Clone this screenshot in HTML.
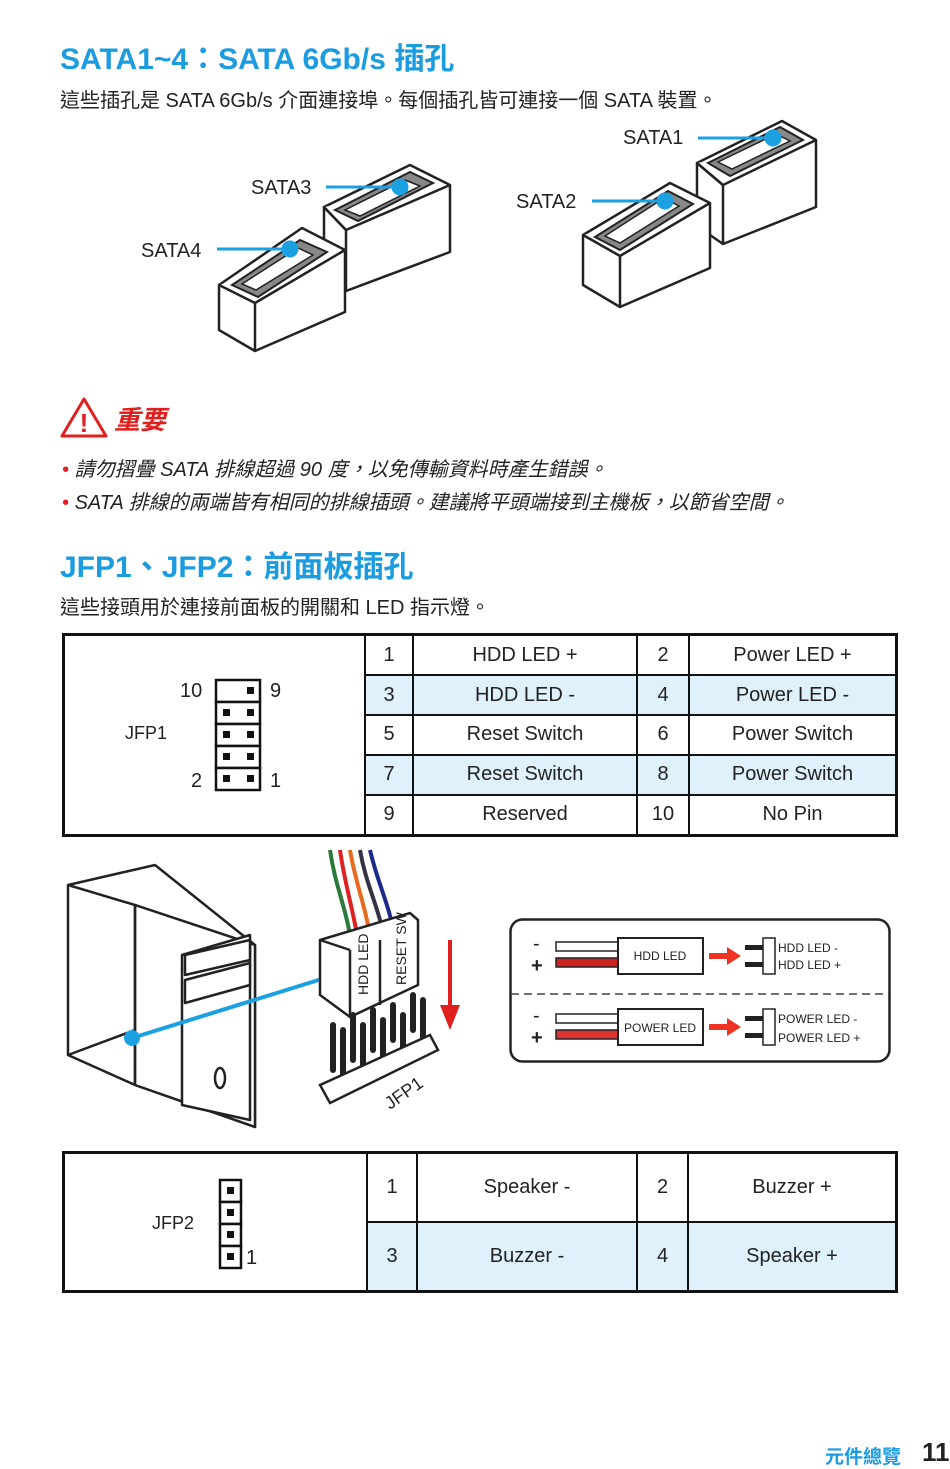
<!DOCTYPE html>
<html><head><meta charset="utf-8"><style>
body{margin:0;width:950px;height:1467px;background:#fff;position:relative;font-family:"Liberation Sans","Noto Sans CJK TC",sans-serif;color:#222;overflow:hidden}
.a{position:absolute;white-space:nowrap}
.h{color:#1b9be0;font-weight:bold;font-size:30px}
.t{font-size:20px}
table{position:absolute;border-collapse:collapse;font-size:20px}
td{border:2px solid #111;text-align:center;padding:0}
.b td.c{background:#dff2fb}
</style></head><body>
<div class="a h" style="left:60px;top:34px">SATA1~4：SATA 6Gb/s 插孔</div>
<div class="a t" style="left:60px;top:84px">這些插孔是 SATA 6Gb/s 介面連接埠。每個插孔皆可連接一個 SATA 裝置。</div>

<svg class="a" style="left:0;top:0" width="950" height="380">
<g fill="#fff" stroke="#222" stroke-width="2.5" stroke-linejoin="round">
 <polygon points="324,207 410,165 450,185 450,252 346,291 346,230"/>
 <polyline points="324,207 346,230 450,185"/><line x1="324" y1="207" x2="324" y2="270"/><polyline points="324,270 346,291"/>
 <polygon points="219,285 302,228 345,250 345,312 255,351 219,330"/>
 <polyline points="219,285 255,303 345,250"/><line x1="255" y1="303" x2="255" y2="351"/>
 <polygon points="697,163 782,121 816,140 816,207 723,244 723,185"/>
 <polyline points="697,163 723,185 816,140"/><line x1="697" y1="163" x2="697" y2="226"/><line x1="697" y1="226" x2="723" y2="244"/>
 <polygon points="583,235 670,183 710,203 710,268 620,307 583,285"/>
 <polyline points="583,235 620,256 710,203"/><line x1="620" y1="256" x2="620" y2="307"/>
</g>
<g fill="#888" stroke="#222" stroke-width="2">
 <polygon points="335,210 410,172 433,183 358,221"/>
 <polygon points="232,285 300,240 327,252 258,297"/>
 <polygon points="708,163 780,127 803,140 730,176"/>
 <polygon points="595,237 668,191 693,204 620,250"/>
</g>
<g fill="#fff" stroke="#222" stroke-width="1.5">
 <polygon points="345,210 405,180 420,186 360,216"/>
 <polygon points="242,284 298,248 313,255 256,290"/>
 <polygon points="718,162 776,134 790,141 732,169"/>
 <polygon points="605,236 664,198 679,206 620,243"/>
</g>
<g stroke="#1ba0e2" stroke-width="3" fill="#1ba0e2">
 <line x1="326" y1="187" x2="400" y2="187"/><circle cx="400" cy="187" r="7"/>
 <line x1="217" y1="249" x2="290" y2="249"/><circle cx="290" cy="249" r="7"/>
 <line x1="698" y1="138" x2="773" y2="138"/><circle cx="773" cy="138" r="7"/>
 <line x1="592" y1="201" x2="665" y2="201"/><circle cx="665" cy="201" r="7"/>
</g>
</svg>
<div class="a t" style="left:251px;top:177px">SATA3</div>
<div class="a t" style="left:141px;top:240px">SATA4</div>
<div class="a t" style="left:623px;top:127px">SATA1</div>
<div class="a t" style="left:516px;top:191px">SATA2</div>

<svg class="a" style="left:60px;top:396px" width="50" height="44"><polygon points="24,3 46,40 2,40" fill="#fff" stroke="#e0201f" stroke-width="3" stroke-linejoin="round"/><text x="24" y="36" text-anchor="middle" font-size="26" font-weight="bold" fill="#e0201f" font-family="Liberation Sans">!</text></svg>
<div class="a" style="left:114px;top:400px;color:#e0201f;font-size:26px;font-weight:bold;font-style:italic">重要</div>
<div class="a t" style="left:62px;top:453px;font-style:italic"><span style="color:#e0201f">•</span> 請勿摺疊 SATA 排線超過 90 度，以免傳輸資料時產生錯誤。</div>
<div class="a t" style="left:62px;top:486px;font-style:italic"><span style="color:#e0201f">•</span> SATA 排線的兩端皆有相同的排線插頭。建議將平頭端接到主機板，以節省空間。</div>

<div class="a h" style="left:60px;top:542px">JFP1、JFP2：前面板插孔</div>
<div class="a t" style="left:60px;top:591px">這些接頭用於連接前面板的開關和 LED 指示燈。</div>

<table style="left:62px;top:633px;width:836px;height:204px;border:3px solid #111">
<tr><td rowspan="5" style="width:299px;position:relative"></td><td style="width:46px">1</td><td style="width:222px">HDD LED +</td><td style="width:50px">2</td><td>Power LED +</td></tr>
<tr class="b"><td class="c">3</td><td class="c">HDD LED -</td><td class="c">4</td><td class="c">Power LED -</td></tr>
<tr><td>5</td><td>Reset Switch</td><td>6</td><td>Power Switch</td></tr>
<tr class="b"><td class="c">7</td><td class="c">Reset Switch</td><td class="c">8</td><td class="c">Power Switch</td></tr>
<tr><td>9</td><td>Reserved</td><td>10</td><td>No Pin</td></tr>
</table>
<svg class="a" style="left:214px;top:678px" width="50" height="116">
<g fill="#fff" stroke="#111" stroke-width="2.5"><rect x="2" y="2" width="44" height="22"/><rect x="2" y="24" width="44" height="22"/><rect x="2" y="46" width="44" height="22"/><rect x="2" y="68" width="44" height="22"/><rect x="2" y="90" width="44" height="22"/></g>
<g fill="#111"><rect x="33" y="9" width="7" height="7"/><rect x="9" y="31" width="7" height="7"/><rect x="33" y="31" width="7" height="7"/><rect x="9" y="53" width="7" height="7"/><rect x="33" y="53" width="7" height="7"/><rect x="9" y="75" width="7" height="7"/><rect x="33" y="75" width="7" height="7"/><rect x="9" y="97" width="7" height="7"/><rect x="33" y="97" width="7" height="7"/></g></svg>
<div class="a t" style="left:180px;top:680px">10</div><div class="a t" style="left:270px;top:680px">9</div>
<div class="a" style="left:125px;top:723px;font-size:18px">JFP1</div>
<div class="a t" style="left:191px;top:770px">2</div><div class="a t" style="left:270px;top:770px">1</div>

<svg class="a" style="left:60px;top:845px" width="450" height="285">
<g fill="#fff" stroke="#222" stroke-width="2.5" stroke-linejoin="round">
 <polygon points="8,40 95,20 195,100 195,282 75,240 8,210"/>
 <polyline points="8,40 75,60 195,100"/>
 <polygon points="75,60 195,100 195,282 75,240" fill="#fff"/>
 <polyline points="75,60 75,240"/>
 <polygon points="122,110 190,90 190,275 122,260"/>
 <polygon points="125,110 190,95 190,115 125,130"/><polygon points="125,135 190,118 190,140 125,158"/>
 <ellipse cx="160" cy="233" rx="5" ry="10"/>
 <line x1="8" y1="210" x2="75" y2="185"/>
</g>
<circle cx="72" cy="193" r="8" fill="#1ba0e2"/>
<line x1="72" y1="193" x2="265" y2="133" stroke="#1ba0e2" stroke-width="4"/>
<g fill="none" stroke-width="4"><path d="M270,5 C275,40 285,60 290,90" stroke="#2a7a3a"/><path d="M280,5 C285,40 292,60 298,95" stroke="#d22"/><path d="M290,5 C296,40 305,60 310,90" stroke="#e66a1f"/><path d="M300,5 C306,40 318,60 325,95" stroke="#334"/><path d="M310,5 C318,40 330,60 335,95" stroke="#1b2a8a"/></g>
<g fill="#fff" stroke="#222" stroke-width="2.5"><polygon points="260,95 350,68 358,75 358,140 290,172 260,150"/><line x1="290" y1="105" x2="290" y2="172"/><line x1="320" y1="95" x2="320" y2="160"/><line x1="260" y1="95" x2="290" y2="105"/></g>
<text x="308" y="150" transform="rotate(-90 308 150)" font-size="14" font-family="Liberation Sans" fill="#222">HDD LED</text>
<text x="346" y="140" transform="rotate(-90 346 140)" font-size="14" font-family="Liberation Sans" fill="#222">RESET SW</text>
<g stroke="#222" stroke-width="6" stroke-linecap="round"><line x1="273" y1="225" x2="273" y2="180"/><line x1="293" y1="215" x2="293" y2="170"/><line x1="313" y1="205" x2="313" y2="165"/><line x1="333" y1="195" x2="333" y2="160"/><line x1="353" y1="185" x2="353" y2="150"/><line x1="283" y1="230" x2="283" y2="185"/><line x1="303" y1="225" x2="303" y2="180"/><line x1="323" y1="215" x2="323" y2="175"/><line x1="343" y1="205" x2="343" y2="170"/><line x1="363" y1="195" x2="363" y2="155"/></g>
<polygon points="260,240 370,190 378,205 270,258" fill="#fff" stroke="#222" stroke-width="2.5"/>
<text x="330" y="265" transform="rotate(-35 330 265)" font-size="18" font-family="Liberation Sans" fill="#222">JFP1</text>
<line x1="390" y1="95" x2="390" y2="160" stroke="#e0201f" stroke-width="4"/><polygon points="380,160 400,160 390,185" fill="#e0201f"/>
</svg>

<svg class="a" style="left:509px;top:918px" width="382" height="146">
<rect x="1.5" y="1.5" width="379" height="142" rx="12" fill="#fff" stroke="#222" stroke-width="2.5"/>
<line x1="2" y1="76" x2="380" y2="76" stroke="#444" stroke-width="1.5" stroke-dasharray="8,5"/>
<g font-family="Liberation Sans" fill="#222"><text x="24" y="32" font-size="20">-</text><text x="22" y="54" font-size="20" font-weight="bold">+</text><text x="24" y="104" font-size="20">-</text><text x="22" y="126" font-size="20" font-weight="bold">+</text></g>
<g stroke="#222" stroke-width="1.5"><rect x="47" y="24" width="62" height="9" fill="#fff"/><rect x="47" y="40" width="62" height="9" fill="#c22"/><rect x="47" y="96" width="62" height="9" fill="#fff"/><rect x="47" y="112" width="62" height="9" fill="#d33"/>
<rect x="109" y="20" width="85" height="36" fill="#fff" stroke-width="2"/><rect x="109" y="91" width="85" height="36" fill="#fff" stroke-width="2"/>
<rect x="254" y="20" width="12" height="36" fill="#fff"/><rect x="254" y="91" width="12" height="36" fill="#fff"/></g>
<g fill="#222"><rect x="236" y="27" width="18" height="5"/><rect x="236" y="44" width="18" height="5"/><rect x="236" y="98" width="18" height="5"/><rect x="236" y="115" width="18" height="5"/></g>
<g fill="#e32"><polygon points="200,35 218,35 218,29 232,38 218,47 218,41 200,41"/><polygon points="200,106 218,106 218,100 232,109 218,118 218,112 200,112"/></g>
<g font-family="Liberation Sans" font-size="12" fill="#222"><text x="151" y="42" text-anchor="middle">HDD LED</text><text x="151" y="114" text-anchor="middle">POWER LED</text><text x="269" y="34">HDD LED -</text><text x="269" y="51">HDD LED +</text><text x="269" y="105">POWER LED -</text><text x="269" y="124">POWER LED +</text></g>
</svg>

<table style="left:62px;top:1151px;width:836px;height:142px;border:3px solid #111">
<tr><td rowspan="2" style="width:301px;border-right:2px solid #111"></td><td style="width:48px">1</td><td style="width:218px">Speaker -</td><td style="width:49px">2</td><td>Buzzer +</td></tr>
<tr class="b"><td class="c">3</td><td class="c">Buzzer -</td><td class="c">4</td><td class="c">Speaker +</td></tr>
</table>
<svg class="a" style="left:218px;top:1178px" width="26" height="94"><g fill="#fff" stroke="#111" stroke-width="2.5"><rect x="2" y="2" width="21" height="22"/><rect x="2" y="24" width="21" height="22"/><rect x="2" y="46" width="21" height="22"/><rect x="2" y="68" width="21" height="22"/></g><g fill="#111"><rect x="9" y="9" width="7" height="7"/><rect x="9" y="31" width="7" height="7"/><rect x="9" y="53" width="7" height="7"/><rect x="9" y="75" width="7" height="7"/></g></svg>
<div class="a" style="left:152px;top:1213px;font-size:18px">JFP2</div>
<div class="a t" style="left:246px;top:1247px">1</div>

<div class="a" style="left:825px;top:1442px;color:#1b9be0;font-size:19px;font-weight:bold">元件總覽</div>
<div class="a" style="left:922px;top:1437px;font-size:26px;font-weight:bold">11</div>
</body></html>
